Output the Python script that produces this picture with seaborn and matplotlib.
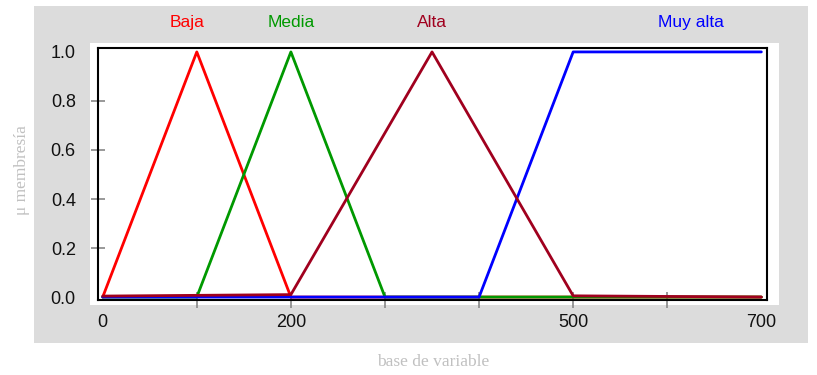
import matplotlib
matplotlib.use("Agg")
import matplotlib.pyplot as plt
from matplotlib.patches import Rectangle
import pandas as pd
import seaborn as sns

# funciones de membresía (puntos de quiebre)
baja_x = [0, 100, 200, 700]
baja_y = [0, 1, 0, 0]
media_x = [0, 100, 200, 300, 700]
media_y = [0, 0, 1, 0, 0]
alta_x = [0, 200, 350, 500, 700]
alta_y = [0.004, 0.01, 1, 0.005, 0]
muy_alta_x = [0, 400, 500, 700]
muy_alta_y = [0, 0, 1, 1]

etiquetas = ["Baja", "Media", "Alta", "Muy alta"]
pos_etiquetas = [90, 200, 350, 625]
colores = {"Baja": "#FF0000", "Media": "#009900", "Alta": "#A0001E", "Muy alta": "#0000FF"}

xticks_lab = [0, 200, 500, 700]
xticks_min = [100, 200, 300, 400, 500, 600]
yticks_lab = [0.0, 0.2, 0.4, 0.6, 0.8, 1.0]
yticks_min = [0.2, 0.4, 0.6, 0.8]

df = pd.concat([
    pd.DataFrame({"x": baja_x, "mu": baja_y, "conjunto": "Baja"}),
    pd.DataFrame({"x": media_x, "mu": media_y, "conjunto": "Media"}),
    pd.DataFrame({"x": muy_alta_x, "mu": muy_alta_y, "conjunto": "Muy alta"}),
    pd.DataFrame({"x": alta_x, "mu": alta_y, "conjunto": "Alta"}),
], ignore_index=True)

sns.set_theme(style="white")
plt.rcParams["font.family"] = ["Liberation Sans", "DejaVu Sans"]

W, H = 817, 375
fig = plt.figure(figsize=(W / 100, H / 100), dpi=100, facecolor="white")


def caja(x0, y0, x1, y1):
    # píxeles (origen arriba-izquierda) -> coordenadas de figura
    return [x0 / W, 1 - y1 / H, (x1 - x0) / W, (y1 - y0) / H]


g = caja(34, 6, 808, 343)
fig.patches.append(Rectangle((g[0], g[1]), g[2], g[3], transform=fig.transFigure,
                             facecolor="#DCDCDC", edgecolor="none", zorder=-3))
b = caja(90, 43, 779, 305)
fig.patches.append(Rectangle((b[0], b[1]), b[2], b[3], transform=fig.transFigure,
                             facecolor="white", edgecolor="none", zorder=-2))

ax = fig.add_axes(caja(98, 48, 767, 300))
sns.lineplot(data=df, x="x", y="mu", hue="conjunto",
             hue_order=["Baja", "Media", "Muy alta", "Alta"],
             palette=colores, estimator=None, sort=False, legend=False,
             linewidth=2.0, ax=ax)

ax.set_xlim(-5, 706)
ax.set_ylim(-0.012, 1.016)
for s in ax.spines.values():
    s.set_color("black")
    s.set_linewidth(1.5)

ax.xaxis.remove_overlapping_locs = False
ax.yaxis.remove_overlapping_locs = False
ax.set_xticks(xticks_lab)
ax.set_xticklabels([str(v) for v in xticks_lab])
ax.set_xticks(xticks_min, minor=True)
ax.set_yticks(yticks_lab)
ax.set_yticklabels([f"{v:.1f}" for v in yticks_lab])
ax.set_yticks(yticks_min, minor=True)
ax.tick_params(axis="both", which="major", length=0, labelsize=13, labelcolor="#111111")
ax.tick_params(axis="x", which="major", pad=10)
ax.tick_params(axis="y", which="major", pad=16)
ax.tick_params(axis="x", which="minor", bottom=True, direction="inout", length=12,
               width=1.2, color="#888888")
ax.tick_params(axis="y", which="minor", left=True, direction="inout", length=10,
               width=1.2, color="#888888")

ax.set_xlabel("")
ax.set_ylabel("")
fig.text(22 / W, 1 - 170 / H, "μ membresía", rotation=90, ha="center", va="center",
         family="Liberation Serif", fontsize=12.5, color="#C0C0C0")
fig.text(433 / W, 1 - 362 / H, "base de variable", ha="center", va="center",
         family="Liberation Serif", fontsize=12.5, color="#C0C0C0")

for nombre, xp in zip(etiquetas, pos_etiquetas):
    ax.text(xp, 1.1, nombre, ha="center", va="center", fontsize=12.5,
            color=colores[nombre], transform=ax.get_xaxis_transform())

fig.savefig("out.png", dpi=100)
